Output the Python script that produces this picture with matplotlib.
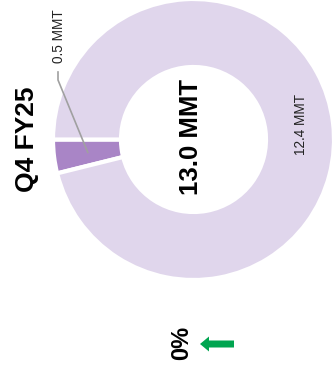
import numpy as np
import matplotlib
matplotlib.use("Agg")
import matplotlib.pyplot as plt

plt.rcParams["font.family"] = ["Liberation Sans", "DejaVu Sans"]

# donut data (million metric tonnes)
segments = ["Other", "Main"]
values = [0.5, 12.4]
seg_labels = ["0.5 MMT", "12.4 MMT"]
total_label = "13.0 MMT"
period = "Q4 FY25"
change = "0%"

light = "#e0d6ec"
dark = "#a985c6"

fig = plt.figure(figsize=(3.32, 3.75), dpi=100)
ax = fig.add_axes([0, 0, 1, 1])

cx, cy, R, W = 193.5, 139.5, 140.5, 68
wedges, _ = ax.pie(values, center=(cx, cy), radius=R, startangle=180,
                   counterclock=False, colors=[dark, light],
                   wedgeprops=dict(width=W, edgecolor="white", linewidth=3))

ax.set_xlim(0, 332)
ax.set_ylim(375, 0)
ax.set_aspect("equal")
ax.axis("off")

# leader line for the small slice
w = wedges[0]
mid = np.deg2rad((w.theta1 + w.theta2) / 2)
rm = R - W / 2
px, py = cx + rm * np.cos(mid), cy + rm * np.sin(mid)
ax.plot([px, 58, 58], [py, 80, 72], color="#a0a0a0", lw=1.2)
ax.text(59, 63, seg_labels[0], rotation=90, ha="center", va="bottom",
        fontsize=9.8, color="#222222")

ax.text(301, 124, seg_labels[1], rotation=90, ha="center", va="center",
        fontsize=9.8, color="#222222")

ax.text(191, 137, total_label, rotation=90, ha="center", va="center",
        fontsize=18.5, fontweight="bold")
ax.text(27, 139, period, rotation=90, ha="center", va="center",
        fontsize=19, fontweight="bold")
ax.text(182, 343, change, rotation=90, ha="center", va="center",
        fontsize=17, fontweight="bold")

ax.arrow(234, 344, -25, 0, width=7, head_width=15, head_length=9,
         length_includes_head=False, color="#00a550", lw=0)

fig.savefig("out.png", dpi=100)
